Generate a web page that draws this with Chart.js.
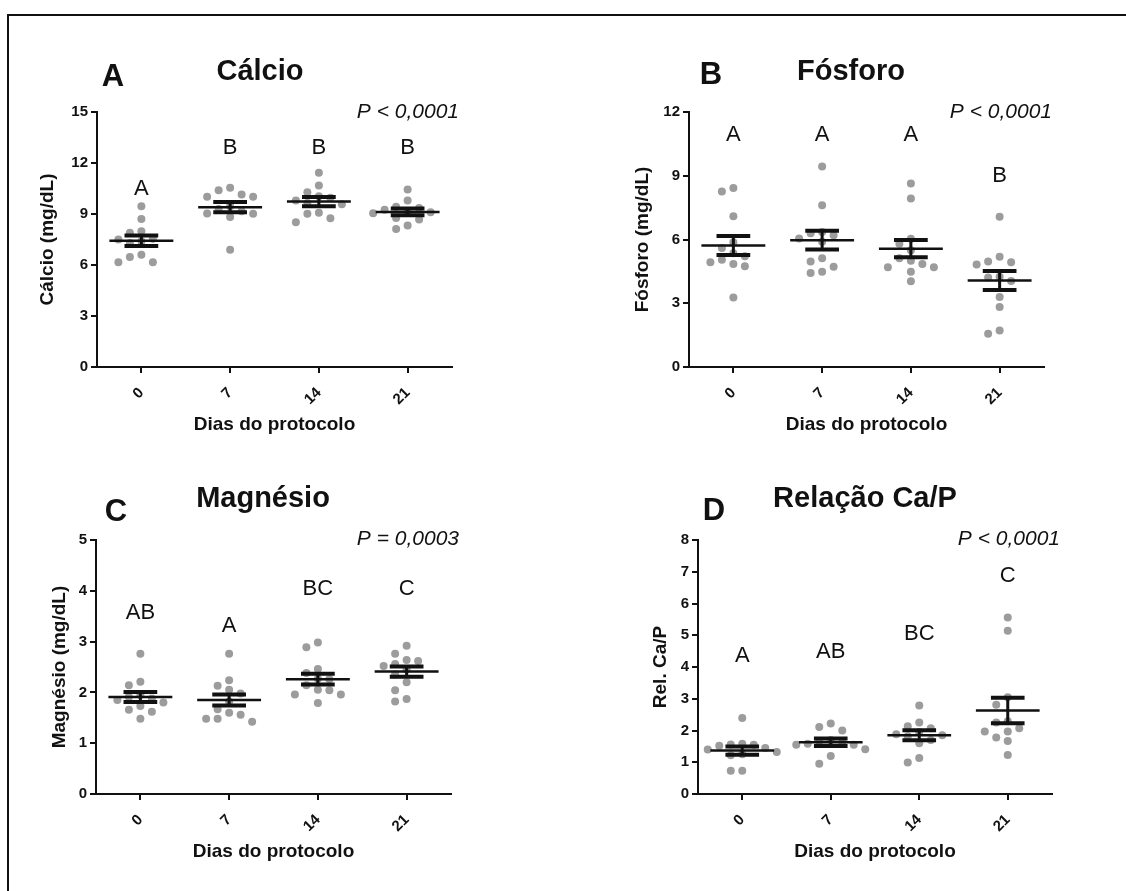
<!DOCTYPE html>
<html lang="pt">
<head>
<meta charset="UTF-8">
<title>Cálcio, Fósforo, Magnésio e Relação Ca/P</title>
<script src="https://cdn.jsdelivr.net/npm/chart.js"></script>
<style>
  html, body { margin: 0; padding: 0; background: #fff; overflow: hidden; }
  #frame { position: absolute; left: 7px; top: 14px; width: 1200px; height: 950px;
           border-top: 2px solid #111; border-left: 2px solid #111; }
  canvas { position: absolute; }
</style>
</head>
<body>
<div id="frame"></div>
<canvas id="cA" width="563" height="445" style="left:0;top:0"></canvas>
<canvas id="cB" width="563" height="445" style="left:563px;top:0"></canvas>
<canvas id="cC" width="563" height="446" style="left:0;top:445px"></canvas>
<canvas id="cD" width="563" height="446" style="left:563px;top:445px"></canvas>
<script>
// categorias (dias do protocolo)
const days = ['0', '7', '14', '21'];

// A - Cálcio (mg/dL)
const calcio0  = [9.46, 8.71, 7.99, 7.89, 7.55, 7.50, 7.40, 7.30, 6.61, 6.47, 6.16, 6.16];
const calcio7  = [10.54, 10.40, 10.15, 10.01, 10.01, 9.46, 9.30, 9.16, 9.03, 9.01, 8.83, 6.90];
const calcio14 = [11.42, 10.68, 10.28, 10.05, 9.95, 9.80, 9.65, 9.58, 9.07, 9.01, 8.75, 8.52];
const calcio21 = [10.44, 9.79, 9.42, 9.36, 9.25, 9.15, 9.10, 9.05, 8.77, 8.67, 8.32, 8.12];
const calcioMean = [7.43, 9.40, 9.73, 9.12];
const calcioSem  = [0.31, 0.30, 0.27, 0.20];
const calcioLetters = ['A', 'B', 'B', 'B'];

// B - Fósforo (mg/dL)
const fosforo0  = [8.42, 8.26, 7.09, 5.87, 5.60, 5.35, 5.21, 5.05, 4.93, 4.85, 4.74, 3.27];
const fosforo7  = [9.43, 7.61, 6.35, 6.30, 6.20, 6.05, 5.90, 5.12, 4.96, 4.72, 4.48, 4.42];
const fosforo14 = [8.64, 7.93, 6.03, 5.80, 5.50, 5.12, 5.00, 4.85, 4.69, 4.69, 4.48, 4.03];
const fosforo21 = [7.07, 5.19, 4.96, 4.93, 4.82, 4.25, 4.21, 4.05, 3.30, 2.82, 1.72, 1.56];
const fosforoMean = [5.72, 5.97, 5.57, 4.07];
const fosforoSem  = [0.45, 0.44, 0.41, 0.45];
const fosforoLetters = ['A', 'A', 'A', 'B'];

// C - Magnésio (mg/dL)
const magnesio0  = [2.76, 2.21, 2.14, 1.95, 1.91, 1.88, 1.85, 1.80, 1.73, 1.66, 1.62, 1.48];
const magnesio7  = [2.76, 2.24, 2.13, 2.05, 1.98, 1.82, 1.67, 1.60, 1.56, 1.48, 1.48, 1.42];
const magnesio14 = [2.98, 2.89, 2.46, 2.38, 2.27, 2.26, 2.14, 2.05, 2.04, 1.96, 1.96, 1.79];
const magnesio21 = [2.92, 2.76, 2.64, 2.62, 2.56, 2.52, 2.45, 2.35, 2.20, 2.04, 1.87, 1.82];
const magnesioMean = [1.91, 1.85, 2.26, 2.41];
const magnesioSem  = [0.10, 0.11, 0.105, 0.10];
const magnesioLetters = ['AB', 'A', 'BC', 'C'];

// D - Relação Ca/P
const relacao0  = [2.39, 1.58, 1.56, 1.55, 1.52, 1.45, 1.40, 1.32, 1.25, 1.22, 0.73, 0.73];
const relacao7  = [2.22, 2.11, 2.00, 1.70, 1.66, 1.62, 1.58, 1.55, 1.55, 1.41, 1.20, 0.95];
const relacao14 = [2.79, 2.25, 2.13, 2.07, 1.95, 1.88, 1.85, 1.82, 1.70, 1.60, 1.13, 0.99];
const relacao21 = [5.56, 5.14, 3.05, 2.81, 2.29, 2.25, 2.07, 1.97, 1.97, 1.78, 1.67, 1.23];
const relacaoMean = [1.37, 1.63, 1.85, 2.63];
const relacaoSem  = [0.13, 0.12, 0.16, 0.40];
const relacaoLetters = ['A', 'AB', 'BC', 'C'];

const FONT = '"Liberation Sans", Arial, Helvetica, sans-serif';
const INK = '#111';
Chart.defaults.font.family = FONT;
Chart.defaults.color = INK;

// texto do painel: título, letra, valor de P e letras dos grupos
const panelText = {
  id: 'panelText',
  afterDraw(chart, args, o) {
    const ctx = chart.ctx, xs = chart.scales.x, ys = chart.scales.y;
    ctx.save();
    ctx.fillStyle = INK;
    ctx.textBaseline = 'alphabetic';
    ctx.textAlign = 'center';
    ctx.font = 'bold 29px ' + FONT;
    ctx.fillText(o.title, o.titleX, o.titleY);
    ctx.font = 'bold 31px ' + FONT;
    ctx.fillText(o.panel, o.panelX, o.panelY);
    ctx.font = 'italic 21px ' + FONT;
    ctx.textAlign = 'right';
    ctx.fillText(o.pText, o.pX, o.pY);
    ctx.font = '22px ' + FONT;
    ctx.textAlign = 'center';
    ctx.textBaseline = 'middle';
    o.letters.forEach((t, i) => ctx.fillText(t, xs.getPixelForValue(i), ys.getPixelForValue(o.letterY[i])));
    ctx.restore();
  }
};

// dispersão em colunas (estilo "beeswarm"), calculada em pixels pela escala
function swarm(values, g, xs, ys) {
  const slotPx = 11.5, gapPx = 9.5;
  const pxPerCat = xs.getPixelForValue(1) - xs.getPixelForValue(0);
  const order = values.map((v, i) => i).sort((a, b) => values[b] - values[a]);
  const placed = [];
  const out = [];
  order.forEach(i => {
    const py = ys.getPixelForValue(values[i]);
    let slot = 0;
    for (let k = 0; k < 40; k++) {
      const c = k === 0 ? 0 : (k % 2 ? -Math.ceil(k / 2) : Math.ceil(k / 2));
      if (!placed.some(p => p.slot === c && Math.abs(p.py - py) < gapPx)) { slot = c; break; }
    }
    placed.push({ slot, py });
    out.push({ x: g + slot * slotPx / pxPerCat, y: values[i] });
  });
  return out;
}

function meanLines(means) {
  return means.flatMap((m, i) => [{ x: i - 0.36, y: m }, { x: i + 0.36, y: m }, { x: i + 0.5, y: null }]);
}
function semCaps(means, sems) {
  return means.flatMap((m, i) => [
    { x: i - 0.19, y: m + sems[i] }, { x: i + 0.19, y: m + sems[i] }, { x: i, y: null },
    { x: i - 0.19, y: m - sems[i] }, { x: i + 0.19, y: m - sems[i] }, { x: i + 0.5, y: null }]);
}
function semStems(means, sems) {
  return means.flatMap((m, i) => [{ x: i, y: m - sems[i] }, { x: i, y: m + sems[i] }, { x: i + 0.5, y: null }]);
}

function makePanel(id, p) {
  const canvas = document.getElementById(id);
  const W = canvas.width, H = canvas.height;
  const [l, r, t, b] = p.area;
  const half = 19 * 1.2 / 2;
  const padL = p.yTitleX - half;
  const xBottom = p.xTitleY + half;
  const line = { type: 'line', pointRadius: 0, fill: false, spanGaps: false, borderColor: INK, borderCapStyle: 'butt' };

  const chart = new Chart(canvas, {
    type: 'scatter',
    data: {
      datasets: [
        Object.assign({}, line, { data: meanLines(p.means), borderWidth: 2.5 }),
        Object.assign({}, line, { data: semCaps(p.means, p.sems), borderWidth: 4 }),
        Object.assign({}, line, { data: semStems(p.means, p.sems), borderWidth: 3 }),
        { type: 'scatter', data: p.groups.map((v, g) => v.map(y => ({ x: g, y }))).flat(),
          pointRadius: 4, pointBackgroundColor: '#9c9c9c', pointBorderWidth: 0 }
      ]
    },
    options: {
      responsive: false,
      animation: false,
      events: [],
      layout: { padding: { left: padL, right: W - r, top: t, bottom: H - xBottom } },
      plugins: {
        legend: { display: false },
        tooltip: { enabled: false },
        panelText: p.text
      },
      scales: {
        x: {
          type: 'linear', min: -0.5, max: 3.5,
          afterBuildTicks: s => { s.ticks = days.map((d, i) => ({ value: i })); },
          afterFit: s => { s.height = xBottom - b; },
          ticks: { callback: v => days[v], minRotation: 45, maxRotation: 45, autoSkip: false,
                   padding: 11, color: INK, font: { size: 15, weight: 'bold' } },
          grid: { display: true, drawOnChartArea: false, drawTicks: true, tickLength: 6, color: INK, lineWidth: 2 },
          border: { display: true, color: INK, width: 2 },
          title: { display: true, text: 'Dias do protocolo', padding: 0, color: INK,
                   font: { size: 19, weight: 'bold' } }
        },
        y: {
          min: 0, max: p.yMax,
          afterFit: s => { s.width = l - padL; },
          ticks: { stepSize: p.yStep, padding: 3, color: INK, font: { size: 15, weight: 'bold' } },
          grid: { display: true, drawOnChartArea: false, drawTicks: true, tickLength: 6, color: INK, lineWidth: 2 },
          border: { display: true, color: INK, width: 2 },
          title: { display: true, text: p.yTitle, padding: 0, color: INK,
                   font: { size: 19, weight: 'bold' } }
        }
      }
    },
    plugins: [panelText]
  });

  // segunda passagem: posições horizontais dos pontos a partir das escalas já montadas
  chart.data.datasets[3].data = p.groups.flatMap((v, g) => swarm(v, g, chart.scales.x, chart.scales.y));
  chart.update('none');
  return chart;
}

makePanel('cA', {
  area: [97, 452, 112, 367], yTitleX: 48, xTitleY: 425,
  groups: [calcio0, calcio7, calcio14, calcio21], means: calcioMean, sems: calcioSem,
  yMax: 15, yStep: 3, yTitle: 'Cálcio (mg/dL)',
  text: { title: 'Cálcio', titleX: 260, titleY: 80, panel: 'A', panelX: 113, panelY: 86,
          pText: 'P < 0,0001', pX: 459, pY: 118, letters: calcioLetters, letterY: [10.5, 12.9, 12.9, 12.9] }
});

makePanel('cB', {
  area: [126, 481, 112, 367], yTitleX: 80, xTitleY: 425,
  groups: [fosforo0, fosforo7, fosforo14, fosforo21], means: fosforoMean, sems: fosforoSem,
  yMax: 12, yStep: 3, yTitle: 'Fósforo (mg/dL)',
  text: { title: 'Fósforo', titleX: 288, titleY: 80, panel: 'B', panelX: 148, panelY: 84,
          pText: 'P < 0,0001', pX: 489, pY: 118, letters: fosforoLetters, letterY: [10.9, 10.9, 10.9, 9.0] }
});

makePanel('cC', {
  area: [96, 451, 95, 349], yTitleX: 60, xTitleY: 407,
  groups: [magnesio0, magnesio7, magnesio14, magnesio21], means: magnesioMean, sems: magnesioSem,
  yMax: 5, yStep: 1, yTitle: 'Magnésio (mg/dL)',
  text: { title: 'Magnésio', titleX: 263, titleY: 62, panel: 'C', panelX: 116, panelY: 76,
          pText: 'P = 0,0003', pX: 459, pY: 100, letters: magnesioLetters, letterY: [3.56, 3.3, 4.03, 4.03] }
});

makePanel('cD', {
  area: [135, 489, 95, 349], yTitleX: 98, xTitleY: 407,
  groups: [relacao0, relacao7, relacao14, relacao21], means: relacaoMean, sems: relacaoSem,
  yMax: 8, yStep: 1, yTitle: 'Rel. Ca/P',
  text: { title: 'Relação Ca/P', titleX: 302, titleY: 62, panel: 'D', panelX: 151, panelY: 75,
          pText: 'P < 0,0001', pX: 497, pY: 100, letters: relacaoLetters, letterY: [4.35, 4.47, 5.04, 6.87] }
});
</script>
</body>
</html>
